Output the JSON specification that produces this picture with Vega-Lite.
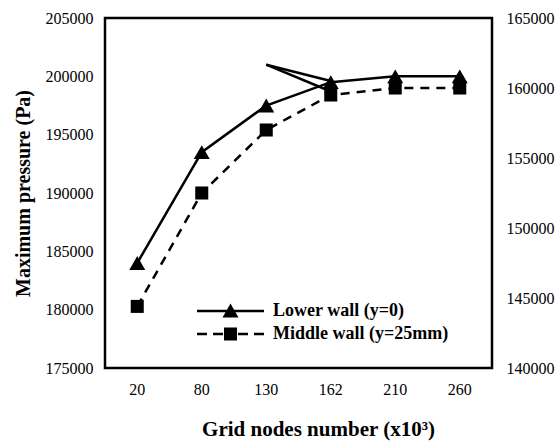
{
  "$schema": "https://vega.github.io/schema/vega-lite/v6.json",
  "width": 387,
  "height": 350,
  "autosize": {"type": "none"},
  "padding": {"left": 105, "top": 18, "right": 63, "bottom": 76},
  "config": {
    "view": {"stroke": "black", "strokeWidth": 2.5},
    "font": "Liberation Serif",
    "axis": {
      "labelFont": "Liberation Serif",
      "titleFont": "Liberation Serif",
      "labelColor": "black",
      "titleColor": "black",
      "grid": false,
      "ticks": false,
      "domain": false,
      "labelFontSize": 16
    },
    "legend": {"labelFont": "Liberation Serif"}
  },
  "data": {
    "values": [
      {"nodes": "20", "series": "Lower wall (y=0)", "pressure": 184000},
      {"nodes": "80", "series": "Lower wall (y=0)", "pressure": 193500},
      {"nodes": "130", "series": "Lower wall (y=0)", "pressure": 197500},
      {"nodes": "162", "series": "Lower wall (y=0)", "pressure": 199500},
      {"nodes": "210", "series": "Lower wall (y=0)", "pressure": 200000},
      {"nodes": "260", "series": "Lower wall (y=0)", "pressure": 200000},
      {"nodes": "20", "series": "Middle wall (y=25mm)", "pressure": 144400},
      {"nodes": "80", "series": "Middle wall (y=25mm)", "pressure": 152500},
      {"nodes": "130", "series": "Middle wall (y=25mm)", "pressure": 157000},
      {"nodes": "162", "series": "Middle wall (y=25mm)", "pressure": 159500},
      {"nodes": "210", "series": "Middle wall (y=25mm)", "pressure": 160000},
      {"nodes": "260", "series": "Middle wall (y=25mm)", "pressure": 160000}
    ]
  },
  "encoding": {
    "x": {
      "field": "nodes",
      "type": "ordinal",
      "sort": null,
      "scale": {"type": "band", "domain": ["20", "80", "130", "162", "210", "260"], "paddingInner": 0, "paddingOuter": 0},
      "axis": {
        "labelAngle": 0,
        "labelPadding": 13,
        "labelFont": "Liberation Serif",
        "labelFontSize": 16,
        "title": "Grid nodes number (x10³)",
        "titleFont": "Liberation Serif",
        "titleFontSize": 21,
        "titleFontWeight": "bold",
        "titlePadding": 21,
        "titleX": 213,
        "titleAlign": "center"
      }
    }
  },
  "layer": [
    {
      "encoding": {
        "y": {
          "field": "pressure",
          "type": "quantitative",
          "scale": {"domain": [175000, 205000], "zero": false, "nice": false},
          "axis": {
            "values": [175000, 180000, 185000, 190000, 195000, 200000, 205000],
            "format": "d",
            "labelPadding": 12,
            "labelFont": "Liberation Serif",
            "labelFontSize": 16,
            "title": "Maximum pressure (Pa)",
            "titleFont": "Liberation Serif",
            "titleFontSize": 20,
            "titleFontWeight": "bold",
            "titlePadding": 12
          }
        }
      },
      "layer": [
        {
          "transform": [{"filter": "datum.series === 'Lower wall (y=0)'"}],
          "mark": {"type": "line", "color": "black", "strokeWidth": 2.5}
        },
        {
          "transform": [{"filter": "datum.series === 'Lower wall (y=0)'"}],
          "mark": {"type": "point", "shape": "triangle-up", "filled": true, "color": "black", "size": 256, "opacity": 1}
        },
        {
          "mark": {"type": "point", "filled": true, "color": "black", "size": 0, "opacity": 1},
          "encoding": {
            "shape": {
              "field": "series",
              "type": "nominal",
              "scale": {
                "domain": ["Lower wall (y=0)", "Middle wall (y=25mm)"],
                "range": [
                  "M-3.35,-0.12L3.35,-0.12L3.35,0.12L-3.35,0.12Z M0,-0.75L0.8,0.65L-0.8,0.65Z",
                  "M-3.35,-0.12L-2.35,-0.12L-2.35,0.12L-3.35,0.12Z M-1.75,-0.12L-0.75,-0.12L-0.75,0.12L-1.75,0.12Z M0.75,-0.12L1.75,-0.12L1.75,0.12L0.75,0.12Z M2.35,-0.12L3.35,-0.12L3.35,0.12L2.35,0.12Z M-0.65,-0.65L0.65,-0.65L0.65,0.65L-0.65,0.65Z"
                ]
              },
              "legend": {
                "title": null,
                "orient": "none",
                "legendX": 115.5,
                "legendY": 283,
                "padding": 0,
                "symbolSize": 400,
                "symbolFillColor": "black",
                "symbolStrokeWidth": 0,
                "labelFont": "Liberation Serif",
                "labelFontWeight": "bold",
                "labelFontSize": 18,
                "labelColor": "black",
                "labelOffset": 32.5,
                "labelLimit": 300,
                "rowPadding": 4
              }
            }
          }
        },
        {
          "data": {
            "values": [
              {"nodes": "130", "nodes2": "162", "pressure": 201000, "pressure2": 199600},
              {"nodes": "130", "nodes2": "162", "pressure": 201000, "pressure2": 198700}
            ]
          },
          "mark": {"type": "rule", "color": "black", "strokeWidth": 2.5},
          "encoding": {
            "x2": {"field": "nodes2"},
            "y2": {"field": "pressure2"}
          }
        }
      ]
    },
    {
      "transform": [{"filter": "datum.series === 'Middle wall (y=25mm)'"}],
      "encoding": {
        "y": {
          "field": "pressure",
          "type": "quantitative",
          "scale": {"domain": [140000, 165000], "zero": false, "nice": false},
          "axis": {
            "orient": "right",
            "values": [140000, 145000, 150000, 155000, 160000, 165000],
            "format": "d",
            "labelPadding": 14,
            "labelFont": "Liberation Serif",
            "labelFontSize": 16,
            "title": null
          }
        }
      },
      "layer": [
        {
          "mark": {"type": "line", "color": "black", "strokeWidth": 2.5, "strokeDash": [9, 7]}
        },
        {
          "mark": {"type": "point", "shape": "square", "filled": true, "color": "black", "size": 170, "opacity": 1}
        }
      ]
    }
  ],
  "resolve": {"scale": {"y": "independent"}}
}
